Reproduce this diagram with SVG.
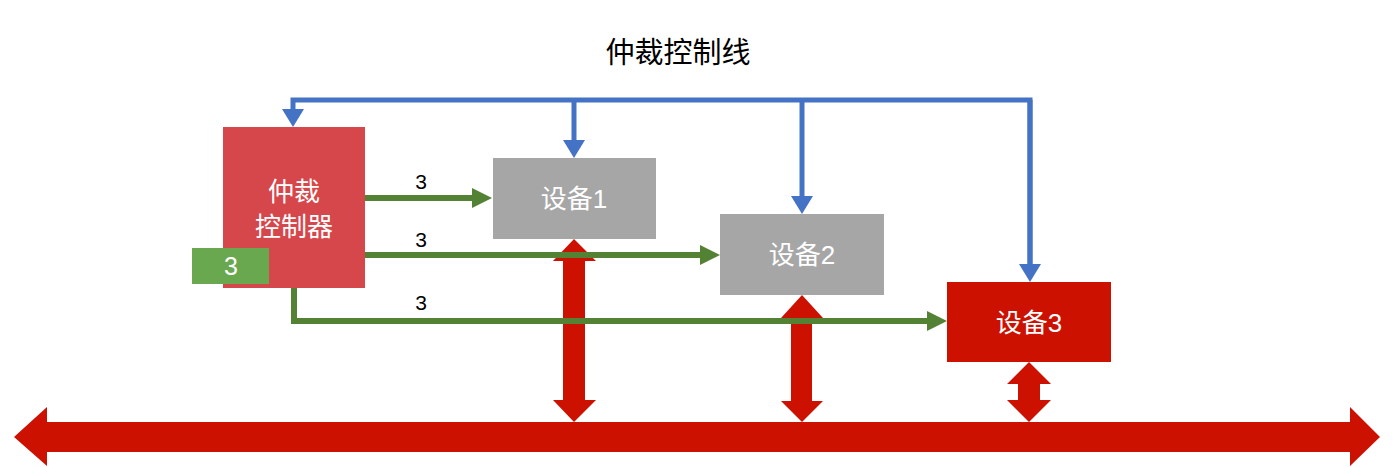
<svg xmlns="http://www.w3.org/2000/svg" width="1400" height="467" viewBox="0 0 1400 467">
<style>
.lbl{font-family:"Liberation Sans","Noto Sans CJK SC",sans-serif;fill:#fff;text-anchor:middle}
.num{font-family:"Liberation Sans","Noto Sans CJK SC",sans-serif;fill:#000;font-size:21px;text-anchor:middle}
.blue{stroke:#4472C4;stroke-width:5;fill:none;stroke-linejoin:miter}
.green{stroke:#548235;stroke-width:6;fill:none;stroke-linejoin:miter}
.red{fill:#CC1100}
</style>
<defs>
<marker id="ab" markerUnits="userSpaceOnUse" markerWidth="20" markerHeight="22" refX="0" refY="11" orient="auto" viewBox="0 0 20 22"><path d="M0,0 L18,11 L0,22 Z" fill="#4472C4"/></marker>
<marker id="ag" markerUnits="userSpaceOnUse" markerWidth="22" markerHeight="22" refX="0" refY="11" orient="auto" viewBox="0 0 22 22"><path d="M0,1 L20,11 L0,21 Z" fill="#548235"/></marker>
</defs>
<rect width="1400" height="467" fill="#fff"/>
<text x="678" y="63" font-family="'Noto Sans CJK SC',sans-serif" font-size="29" fill="#000" text-anchor="middle">仲裁控制线</text>
<g id="connectors">
<path class="blue" d="M1030,264 V100 H293 V109" marker-end="url(#ab)"/>
<path class="blue" d="M1030,100 V264" marker-end="url(#ab)"/>
<path class="blue" d="M574,100 V140" marker-end="url(#ab)"/>
<path class="blue" d="M802,100 V196" marker-end="url(#ab)"/>
<polygon class="red" points="14,437 47,407 47,422 1350,422 1350,407 1380,437 1350,466 1350,452 47,452 47,466"/>
<polygon class="red" points="574,239 596,261 585,261 585,400 596,400 574,422 553,400 563,400 563,261 553,261"/>
<polygon class="red" points="802,295 823,318 812,318 812,401 823,401 802,422 781,401 791,401 791,318 781,318"/>
<polygon class="red" points="1029,362 1051,384 1040,384 1040,400 1051,400 1029,422 1007,400 1018,400 1018,384 1007,384"/>
<path class="green" d="M365,198 H472" marker-end="url(#ag)"/>
<path class="green" d="M365,255 H700" marker-end="url(#ag)"/>
<path class="green" d="M294,288 V321 H927" marker-end="url(#ag)"/>
<text class="num" x="421" y="189">3</text>
<text class="num" x="421" y="247">3</text>
<text class="num" x="421" y="310">3</text>
</g>
<g id="controller">
<rect x="223" y="127" width="142" height="161" fill="#D6474B"/>
<text class="lbl" x="294" y="201" font-size="26">仲裁</text>
<text class="lbl" x="294" y="236" font-size="26">控制器</text>
</g>
<g id="count">
<rect x="192" y="248" width="77" height="36" fill="#6AA84F"/>
<text class="lbl" x="231" y="275" font-size="25">3</text>
</g>
<g id="dev1">
<rect x="493" y="158" width="163" height="81" fill="#A6A6A6"/>
<text class="lbl" x="574" y="208" font-size="26">设备1</text>
</g>
<g id="dev2">
<rect x="720" y="214" width="164" height="81" fill="#A6A6A6"/>
<text class="lbl" x="802" y="264" font-size="26">设备2</text>
</g>
<g id="dev3">
<rect x="947" y="282" width="164" height="80" fill="#CC1100"/>
<text class="lbl" x="1029" y="332" font-size="26">设备3</text>
</g>
</svg>
